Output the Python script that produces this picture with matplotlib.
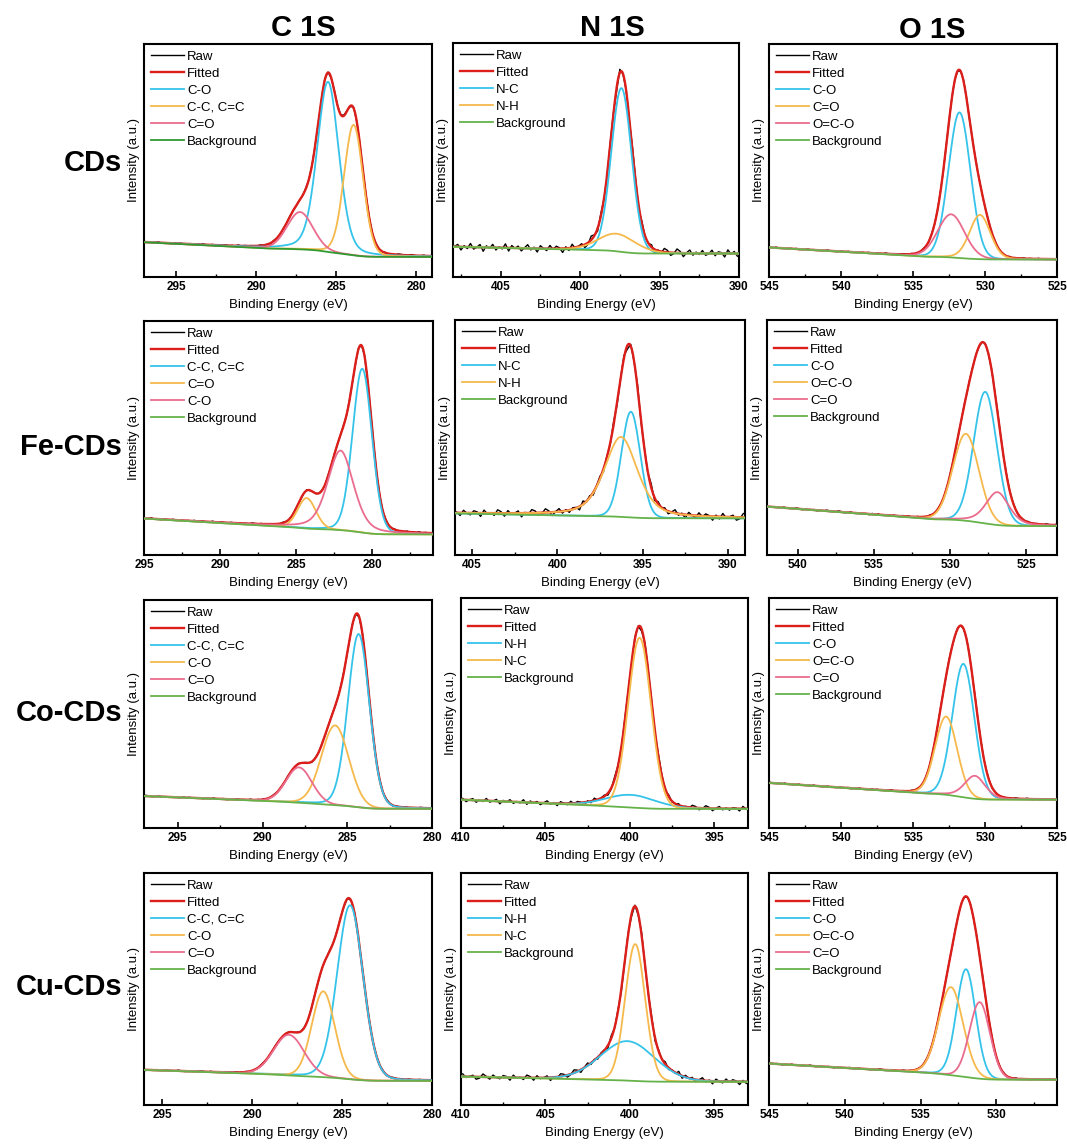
import numpy as np
import matplotlib
matplotlib.use('Agg')
import matplotlib.pyplot as plt
from matplotlib.ticker import MultipleLocator, AutoMinorLocator

plt.rcParams['font.family'] = ['Liberation Sans', 'DejaVu Sans']

# ---- data (intensity in % of panel height) ----
samples = ['CDs', 'Fe-CDs', 'Co-CDs', 'Cu-CDs']
regions = ['C 1S', 'N 1S', 'O 1S']

# peaks: (label, centre eV, height, FWHM eV, lorentz fraction)
cds_c = [('C-O', 285.5, 73, 1.6, 0.25), ('C-C, C=C', 283.9, 56, 1.4, 0.1), ('C=O', 287.25, 16, 1.9, 0.1)]
cds_n = [('N-C', 397.4, 70, 1.5, 0.05), ('N-H', 397.7, 7.5, 2.8, 0.1)]
cds_o = [('C-O', 531.77, 62.5, 1.8, 0.05), ('C=O', 530.35, 19, 1.7, 0.15), ('O=C-O', 532.35, 18.5, 2.2, 0.1)]
fe_c = [('C-C, C=C', 280.65, 70, 1.5, 0.1), ('C=O', 284.3, 13, 1.4, 0.1), ('C-O', 282.08, 34, 2.0, 0.4)]
fe_n = [('N-C', 395.69, 45, 1.3, 0.05), ('N-H', 396.27, 34, 2.3, 0.5)]
fe_o = [('C-O', 527.7, 56, 1.8, 0.05), ('O=C-O', 528.97, 37, 2.0, 0.05), ('C=O', 526.9, 14, 1.8, 0.4)]
co_c = [('C-C, C=C', 284.33, 76, 1.5, 0.1), ('C-O', 285.72, 35, 1.9, 0.05), ('C=O', 287.85, 15.5, 1.8, 0.05)]
co_n = [('N-H', 399.92, 5.5, 3.5, 0.1), ('N-C', 399.42, 74, 1.6, 0.05)]
co_o = [('C-O', 531.5, 58, 1.8, 0.05), ('O=C-O', 532.7, 34, 1.8, 0.05), ('C=O', 530.7, 10, 1.7, 0.3)]
cu_c = [('C-C, C=C', 284.55, 75, 1.7, 0.1), ('C-O', 286.04, 37, 1.5, 0.05), ('C=O', 287.95, 17.5, 2.0, 0.05)]
cu_n = [('N-H', 400.14, 17, 3.8, 0.05), ('N-C', 399.68, 59, 1.4, 0.05)]
cu_o = [('C-O', 532.0, 46.5, 1.5, 0.05), ('O=C-O', 533.0, 38, 1.9, 0.05), ('C=O', 531.1, 33, 1.6, 0.05)]

# background: (level at low-BE end, Shirley step, knee eV, slope above knee)
cds_bg = [(8.6, 3.6, 289, 0.34), (10.0, 1.5, 399, 0.16), (7.5, 1.2, 534, 0.36)]
fe_bg = [(8.8, 2.6, 284, 0.38), (15.6, 1.0, 398, 0.14), (12.3, 2.9, 531, 0.49)]
co_bg = [(8.4, 2.3, 286, 0.30), (8.3, 0.8, 400, 0.32), (12.3, 2.7, 534, 0.42)]
cu_bg = [(10.4, 2.3, 287, 0.27), (10.0, 0.8, 401, 0.16), (10.9, 2.4, 533, 0.38)]

# x ranges (high, low)
cds_x = [(297, 279), (408, 390), (545, 525)]
fe_x = [(295, 276), (406, 389), (542, 523)]
co_x = [(297, 280), (410, 393), (545, 525)]
cu_x = [(296, 280), (410, 393), (545, 526)]

# noise amplitude of raw data
cds_noise = [0.35, 1.7, 0.3]
fe_noise = [0.35, 1.6, 0.35]
co_noise = [0.3, 1.1, 0.3]
cu_noise = [0.3, 1.3, 0.3]

# raw-minus-fit residual pattern (typed, normalised)
resid = [0.3, -0.5, 0.8, 0.1, -0.9, 0.4, 1.0, -0.2, -0.7, 0.5, 0.9, -0.4, 0.2, -1.0, 0.6, 0.0,
         -0.3, 0.7, -0.8, 0.4, 0.9, -0.6, 0.1, -0.2, 0.8, -0.9, 0.3, 0.6, -0.5, -0.1, 0.7, -0.7,
         0.2, 1.0, -0.4, -0.8, 0.5, 0.1, -0.3, 0.9, -0.6, 0.4, -1.0, 0.2, 0.6, -0.2, 0.8, -0.5,
         0.0, 0.7, -0.9, 0.3, -0.4, 0.9, 0.1, -0.7, 0.5, -0.1, 0.6, -0.8, 1.0, -0.3, 0.2, -0.6,
         0.8, -0.2, 0.4, -1.0, 0.7, 0.0, -0.5, 0.9, -0.4, 0.3, -0.8, 0.6, 0.1, -0.7, 0.5, -0.2,
         0.9, -0.9, 0.2, 0.4, -0.6, 0.8, -0.1, -0.5, 0.7, -0.3, 1.0, -0.8, 0.3, 0.0, -0.4, 0.6,
         -0.9, 0.5, 0.2, -0.6, 0.4, -0.3, 0.1]

peaks = [[cds_c, cds_n, cds_o], [fe_c, fe_n, fe_o], [co_c, co_n, co_o], [cu_c, cu_n, cu_o]]
bgs = [cds_bg, fe_bg, co_bg, cu_bg]
xr = [cds_x, fe_x, co_x, cu_x]
noise = [cds_noise, fe_noise, co_noise, cu_noise]

comp_colors = ['#35c3ea', '#f6b94c', '#ea6c8e']
red = '#dc1f1a'

# panel boxes in pixels (left, top, right, bottom) of the 1067x1148 figure
W, H = 1067, 1148
boxes = [[(144, 44, 432, 277), (453, 43, 739, 277), (769, 44, 1057, 277)],
         [(144, 321, 433, 555), (455, 320, 745, 555), (767, 320, 1057, 555)],
         [(144, 600, 432, 828), (461, 598, 748, 828), (769, 598, 1057, 828)],
         [(144, 873, 432, 1105), (461, 873, 748, 1105), (769, 873, 1057, 1105)]]


def pv(e, c, h, w, eta):
    g = np.exp(-4 * np.log(2) * ((e - c) / w) ** 2)
    l = 1 / (1 + 4 * ((e - c) / w) ** 2)
    return h * ((1 - eta) * g + eta * l)


def model(e, pk, bgp):
    comps = [pv(e, c, h, w, eta) for (_, c, h, w, eta) in pk]
    total = np.sum(comps, axis=0)
    b_r, step, knee, slope = bgp
    F = np.cumsum(total) / total.sum()
    bg = b_r + step * F + slope * np.clip(e - knee, 0, None)
    return comps, bg, bg + total


fig = plt.figure(figsize=(W / 100, H / 100), dpi=100)

for i in range(4):
    for j in range(3):
        l, t, r, b = boxes[i][j]
        ax = fig.add_axes([l / W, 1 - b / H, (r - l) / W, (b - t) / H])
        xhi, xlo = xr[i][j]
        e = np.arange(xlo, xhi + 0.05, 0.05)
        comps, bg, fit = model(e, peaks[i][j], bgs[i][j])
        # raw spectrum on the instrument step (0.2 eV)
        er = np.arange(xlo + 0.1, xhi, 0.2)
        _, _, fit_r = model(er, peaks[i][j], bgs[i][j])
        raw = fit_r + noise[i][j] * np.roll(np.resize(resid, er.size), 13 * (3 * i + j))

        green = '#2f9a2f' if (i == 0 and j == 0) else '#66b24a'
        ax.plot(er, raw, color='black', lw=1.0, label='Raw', zorder=1)
        ax.plot(e, fit, color=red, lw=1.7, label='Fitted', zorder=2)
        for k, (lab, c, h, w, eta) in enumerate(peaks[i][j]):
            ax.plot(e, bg + comps[k], color=comp_colors[k], lw=1.3, label=lab, zorder=3)
        ax.plot(e, bg, color=green, lw=1.3, label='Background', zorder=4)

        hs, ls = ax.get_legend_handles_labels()
        ax.legend(hs, ls, loc='upper left', frameon=False, fontsize=9.5,
                  handlelength=2.5, handletextpad=0.25, labelspacing=0.36,
                  borderaxespad=0.2, borderpad=0.3)

        ax.set_xlim(xhi, xlo)
        ax.set_ylim(0, 100)
        ax.set_yticks([])
        ax.xaxis.set_major_locator(MultipleLocator(5))
        ax.xaxis.set_minor_locator(AutoMinorLocator(2))
        ax.tick_params(axis='x', which='major', direction='in', length=4, width=1.2, pad=3,
                       labelsize=8.5)
        ax.tick_params(axis='x', which='minor', direction='in', length=2.5, width=1.0)
        for lbl in ax.get_xticklabels():
            lbl.set_fontweight('bold')
        for s in ax.spines.values():
            s.set_linewidth(1.5)
        ax.set_xlabel('Binding Energy (eV)', fontsize=9.5, labelpad=4)
        ax.set_ylabel('Intensity (a.u.)', fontsize=9.5, labelpad=3)

# column titles
for x, y, txt in [(303, 28, regions[0]), (612, 28, regions[1]), (932, 30, regions[2])]:
    fig.text(x / W, 1 - y / H, txt, fontsize=21, fontweight='bold', ha='center', va='center')

# row labels
for y, txt in zip([163, 447, 713, 987], samples):
    fig.text(122 / W, 1 - y / H, txt, fontsize=21, fontweight='bold', ha='right', va='center')

plt.savefig('out.png', dpi=100)
